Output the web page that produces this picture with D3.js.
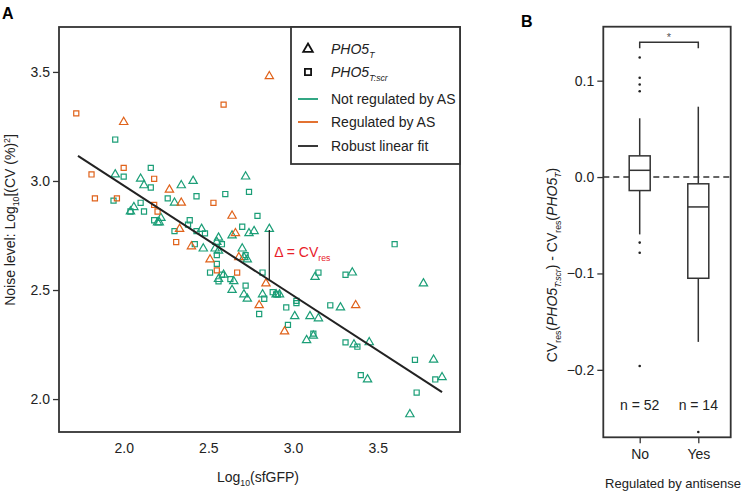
<!DOCTYPE html>
<html>
<head>
<meta charset="utf-8">
<script src="https://cdn.jsdelivr.net/npm/d3@7"></script>
<style>
  body { margin: 0; background: #fff; }
  svg { font-family: "Liberation Sans", Arial, sans-serif; }
  .tick text { font-size: 14px; fill: #222; }
  .tick line { stroke: #333; stroke-width: 1.3; }
</style>
</head>
<body>
<svg id="fig" width="743" height="491"></svg>
<script>
// ---- panel A data: [log10(sfGFP), log10(CV^2)] ----
const notRegT = [
  [1.95,3.03],[2.10,3.01],[2.12,2.98],[2.34,2.98],[2.41,3.00],[2.72,3.02],[2.30,2.90],
  [2.06,2.88],[2.04,2.86],[2.22,2.83],[2.20,2.81],[2.21,2.81],[2.46,2.78],[2.77,2.77],
  [2.74,2.76],[2.64,2.75],[2.86,2.78],[2.56,2.74],[2.55,2.72],[2.47,2.69],[2.54,2.69],
  [2.56,2.68],[2.70,2.69],[2.71,2.65],[2.73,2.64],[2.59,2.57],[2.56,2.55],[2.65,2.54],
  [2.64,2.50],[2.71,2.48],[2.73,2.46],[2.82,2.48],[2.92,2.48],[2.90,2.48],[3.01,2.38],
  [3.10,2.38],[3.15,2.37],[3.12,2.29],[3.08,2.27],[3.28,2.42],[3.36,2.25],[3.45,2.26],
  [3.44,2.09],[3.13,2.56],[3.35,2.58],[3.77,2.53],[3.83,2.18],[3.88,2.10],[3.69,1.93]
];
const notRegScr = [
  [1.95,3.19],[2.16,3.06],[2.00,3.02],[2.16,2.97],[2.74,2.95],[2.60,2.94],[2.43,2.93],
  [1.94,2.91],[2.26,2.92],[2.10,2.90],[2.12,2.86],[2.04,2.86],[2.79,2.84],[2.18,2.82],
  [2.39,2.82],[2.38,2.80],[2.30,2.77],[2.43,2.77],[2.48,2.76],[2.70,2.79],[2.58,2.71],
  [2.42,2.71],[3.60,2.71],[2.55,2.66],[2.72,2.66],[2.55,2.62],[2.51,2.58],[2.58,2.57],
  [2.56,2.54],[2.63,2.55],[2.82,2.58],[2.72,2.52],[2.83,2.46],[2.88,2.49],[2.90,2.48],
  [2.91,2.48],[2.80,2.39],[2.96,2.42],[3.02,2.45],[3.02,2.44],[2.97,2.34],[3.12,2.30],
  [3.22,2.43],[3.31,2.26],[3.38,2.24],[3.40,2.11],[3.72,2.18],[3.84,2.09],[3.73,2.03],
  [3.15,2.58],[3.31,2.57]
];
const regT = [
  [2.00,3.27],[2.86,3.48],[2.27,2.96],[2.34,2.90],[2.64,2.84],[2.33,2.78],[2.66,2.76],
  [2.40,2.70],[2.68,2.65],[2.51,2.64],[2.84,2.53],[2.80,2.43],[2.95,2.31],[3.37,2.43]
];
const regScr = [
  [1.72,3.31],[2.59,3.35],[2.00,3.06],[1.81,3.03],[2.18,3.01],[1.83,2.92],[1.96,2.92],
  [2.53,2.90],[2.18,2.89],[2.20,2.86],[2.31,2.72],[2.55,2.59],[2.67,2.58]
];
const fitSlope = -0.504, fitIntercept = 3.987, fitRange = [1.73, 3.88];
const deltaX = 2.86, deltaTop = 2.775;
const xTicksA = [2.0, 2.5, 3.0, 3.5];
const yTicksA = [2.0, 2.5, 3.0, 3.5];

// ---- panel B data ----
const groups = ["No", "Yes"];
const counts = [52, 14];
const boxQ1 = [-0.014, -0.105];
const boxMed = [0.007, -0.031];
const boxQ3 = [0.022, -0.007];
const whiskLo = [-0.0595, -0.171];
const whiskHi = [0.061, 0.073];
const outliers = [[0.124, 0.103, 0.096, 0.089, -0.068, -0.0785, -0.196], [-0.2645]];
const yTicksB = [-0.2, -0.1, 0.0, 0.1];

const green = "#1b9e77", orange = "#e0621a", ink = "#333";
const svg = d3.select("#fig");

// text pieces [str, kind]: "" normal, "i" italic, "sub", "isub", "sup"
function rich(sel, parts, size) {
  let shift = 0;
  parts.forEach(([s, k]) => {
    const t = sel.append("tspan").text(s);
    let target = 0;
    if (k === "sub" || k === "isub") target = size * 0.3;
    if (k === "sup") target = -size * 0.38;
    if (target !== shift) t.attr("dy", target - shift);
    shift = target;
    if (k === "i" || k === "isub") t.style("font-style", "italic");
    if (target !== 0) t.style("font-size", (size * 0.62) + "px");
  });
}

// ================= panel A =================
const x = d3.scaleLinear().domain([1.618, 3.986]).range([59, 460]);
const y = d3.scaleLinear().domain([1.849, 3.706]).range([432, 27]);

svg.append("text").attr("x", 2).attr("y", 18.5).attr("font-weight", "bold")
  .attr("font-size", 16).text("A");

const gA = svg.append("g");
gA.append("g").attr("transform", "translate(59,0)")
  .call(d3.axisLeft(y).tickValues(yTicksA).tickFormat(d3.format(".1f")).tickSize(6).tickPadding(3))
  .call(g => g.select(".domain").remove());
gA.append("g").attr("transform", "translate(0,432)")
  .call(d3.axisBottom(x).tickValues(xTicksA).tickFormat(d3.format(".1f")).tickSize(0).tickPadding(11))
  .call(g => g.select(".domain").remove());

const symTri = d3.symbol().type(d3.symbolTriangle).size(30);
const symSq = d3.symbol().type(d3.symbolSquare).size(26);
function pts(data, sym, col) {
  gA.append("g").selectAll("path").data(data).join("path")
    .attr("d", sym)
    .attr("transform", d => `translate(${x(d[0])},${y(d[1])})`)
    .attr("fill", "none").attr("stroke", col).attr("stroke-width", 1.2);
}
pts(notRegScr, symSq, green);
pts(notRegT, symTri, green);
pts(regScr, symSq, orange);
pts(regT, symTri, orange);

// robust fit
gA.append("line")
  .attr("x1", x(fitRange[0])).attr("y1", y(fitIntercept + fitSlope * fitRange[0]))
  .attr("x2", x(fitRange[1])).attr("y2", y(fitIntercept + fitSlope * fitRange[1]))
  .attr("stroke", "#222").attr("stroke-width", 2);

// residual marker
gA.append("line")
  .attr("x1", x(deltaX)).attr("x2", x(deltaX))
  .attr("y1", y(deltaTop)).attr("y2", y(fitIntercept + fitSlope * deltaX))
  .attr("stroke", "#222").attr("stroke-width", 1.3);
const dl = gA.append("text").attr("x", x(deltaX) + 5).attr("y", 257)
  .attr("fill", "#e8202a").attr("font-size", 14);
rich(dl, [["\u0394 = CV", ""], ["res", "sub"]], 14);

// frame
gA.append("rect").attr("x", 59).attr("y", 27).attr("width", 401).attr("height", 405)
  .attr("fill", "none").attr("stroke", ink).attr("stroke-width", 1.8);

// legend
const lg = gA.append("g");
lg.append("rect").attr("x", 291).attr("y", 27).attr("width", 169).attr("height", 137)
  .attr("fill", "#fff").attr("stroke", ink).attr("stroke-width", 1.8);
const legY = [49, 72, 99, 122, 146];
lg.append("path").attr("d", d3.symbol().type(d3.symbolTriangle).size(40))
  .attr("transform", `translate(308,${legY[0]})`).attr("fill", "none").attr("stroke", "#111").attr("stroke-width", 1.8);
lg.append("path").attr("d", d3.symbol().type(d3.symbolSquare).size(38))
  .attr("transform", `translate(308,${legY[1]})`).attr("fill", "none").attr("stroke", "#111").attr("stroke-width", 1.8);
[green, orange, "#222"].forEach((c, i) => {
  lg.append("line").attr("x1", 298).attr("x2", 318).attr("y1", legY[i + 2]).attr("y2", legY[i + 2])
    .attr("stroke", c).attr("stroke-width", 1.8);
});
const legParts = [
  [["PHO5", "i"], ["T", "isub"]],
  [["PHO5", "i"], ["T:scr", "isub"]],
  [["Not regulated by AS", ""]],
  [["Regulated by AS", ""]],
  [["Robust linear fit", ""]]
];
legParts.forEach((p, i) => {
  const t = lg.append("text").attr("x", 331).attr("y", legY[i] + 5).attr("font-size", 14).attr("fill", "#222");
  rich(t, p, 14);
});

// axis titles
const xtA = svg.append("text").attr("x", 258).attr("y", 482).attr("text-anchor", "middle")
  .attr("font-size", 14).attr("fill", "#222");
rich(xtA, [["Log", ""], ["10", "sub"], ["(sfGFP)", ""]], 14);
const ytA = svg.append("text").attr("transform", "translate(15,220) rotate(-90)")
  .attr("text-anchor", "middle").attr("font-size", 14).attr("fill", "#222");
rich(ytA, [["Noise level: Log", ""], ["10", "sub"], ["[(CV (%)", ""], ["2", "sup"], ["]", ""]], 14);

// ================= panel B =================
const xb = d3.scalePoint().domain(groups).range([639.7, 698.3]);
const yb = d3.scaleLinear().domain([-0.270, 0.156]).range([437.3, 26.7]);
const bw = 21;

svg.append("text").attr("x", 521).attr("y", 26.5).attr("font-weight", "bold")
  .attr("font-size", 16).text("B");

const gB = svg.append("g");
gB.append("g").attr("transform", "translate(603.3,0)")
  .call(d3.axisLeft(yb).tickValues(yTicksB).tickFormat(d3.format(".1f")).tickSize(6).tickPadding(3))
  .call(g => g.select(".domain").remove());
gB.append("g").attr("transform", "translate(0,437.3)")
  .call(d3.axisBottom(xb).tickSize(6).tickPadding(6))
  .call(g => g.select(".domain").remove());

// zero line
gB.append("line").attr("x1", 603.3).attr("x2", 730.7).attr("y1", yb(0)).attr("y2", yb(0))
  .attr("stroke", ink).attr("stroke-width", 1.5).attr("stroke-dasharray", "6,4");

groups.forEach((g, i) => {
  const cx = xb(g);
  gB.append("line").attr("x1", cx).attr("x2", cx).attr("y1", yb(whiskHi[i])).attr("y2", yb(boxQ3[i]))
    .attr("stroke", ink).attr("stroke-width", 1.5);
  gB.append("line").attr("x1", cx).attr("x2", cx).attr("y1", yb(boxQ1[i])).attr("y2", yb(whiskLo[i]))
    .attr("stroke", ink).attr("stroke-width", 1.5);
  gB.append("rect").attr("x", cx - bw / 2).attr("width", bw)
    .attr("y", yb(boxQ3[i])).attr("height", yb(boxQ1[i]) - yb(boxQ3[i]))
    .attr("fill", "#fff").attr("stroke", ink).attr("stroke-width", 1.5);
  gB.append("line").attr("x1", cx - bw / 2).attr("x2", cx + bw / 2).attr("y1", yb(boxMed[i])).attr("y2", yb(boxMed[i]))
    .attr("stroke", ink).attr("stroke-width", 1.5);
  gB.append("g").selectAll("circle").data(outliers[i]).join("circle")
    .attr("cx", cx).attr("cy", d => yb(d)).attr("r", 1.3).attr("fill", "#222");
  gB.append("text").attr("x", cx).attr("y", 410).attr("text-anchor", "middle")
    .attr("font-size", 14).attr("fill", "#222").text("n = " + counts[i]);
});

// significance bracket
gB.append("path")
  .attr("d", `M${xb("No")},48.3V42.3H${xb("Yes")}V48.3`)
  .attr("fill", "none").attr("stroke", ink).attr("stroke-width", 1.5);
gB.append("text").attr("x", (xb("No") + xb("Yes")) / 2).attr("y", 41).attr("text-anchor", "middle")
  .attr("font-size", 11).attr("fill", "#555").text("*");

gB.append("rect").attr("x", 603.3).attr("y", 26.7).attr("width", 127.4).attr("height", 410.6)
  .attr("fill", "none").attr("stroke", ink).attr("stroke-width", 1.8);

svg.append("text").attr("x", 673).attr("y", 488).attr("text-anchor", "middle")
  .attr("font-size", 13).attr("fill", "#222").text("Regulated by antisense");
const ytB = svg.append("text").attr("transform", "translate(557,265) rotate(-90)")
  .attr("text-anchor", "middle").attr("font-size", 14).attr("fill", "#222");
rich(ytB, [["CV", ""], ["res", "sub"], ["(", ""], ["PHO5", "i"], ["T:scr", "isub"], [") - CV", ""],
  ["res", "sub"], ["(", ""], ["PHO5", "i"], ["T", "isub"], [")", ""]], 14);
</script>
</body>
</html>
